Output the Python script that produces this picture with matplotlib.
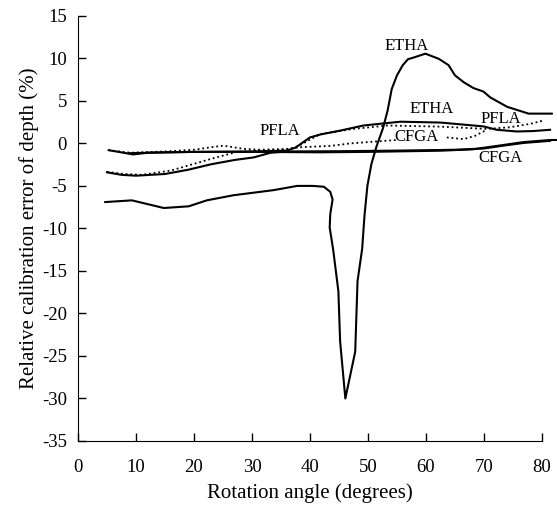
import matplotlib
matplotlib.use("Agg")
import matplotlib.pyplot as plt

plt.rcParams["font.family"] = ["Liberation Serif", "DejaVu Serif"]
plt.rcParams["axes.unicode_minus"] = False

# ETHA, first series (large swing near 45 degrees)
etha1_x = [4.7, 9.3, 14.8, 19.1, 22.2, 26.8, 33.7, 37.8, 40.5, 42.4, 43.5, 43.9, 43.5, 43.4,
           44.0, 44.9, 45.2, 46.1, 47.8, 48.2, 49.0, 49.4, 49.9, 50.6, 51.5, 52.6, 53.4,
           54.1, 55.0, 56.0, 56.9, 57.9, 59.9, 62.2, 63.9, 65.0, 66.5, 68.2, 69.9, 71.1,
           74.0, 77.7, 81.7]
etha1_y = [-6.9, -6.7, -7.6, -7.4, -6.7, -6.1, -5.5, -5.0, -5.0, -5.1, -5.7, -6.6, -8.3,
           -9.9, -12.5, -17.4, -23.3, -30.0, -24.5, -16.2, -12.4, -8.5, -5.0, -2.4, -0.3,
           1.8, 3.9, 6.4, 8.0, 9.2, 9.9, 10.1, 10.55, 9.95, 9.2, 8.0, 7.2, 6.5, 6.1, 5.4,
           4.3, 3.5, 3.5]

# ETHA, second series
etha2_x = [5.3, 7.0, 9.5, 12.0, 20.0, 30.0, 36.0, 37.5, 40.0, 41.8, 45.2, 49.2, 52.7,
           55.6, 62.5, 69.9, 72.2, 75.7, 78.5, 81.4]
etha2_y = [-0.8, -1.0, -1.3, -1.1, -1.0, -0.95, -0.85, -0.5, 0.7, 1.05, 1.5, 2.1, 2.35,
           2.55, 2.45, 2.0, 1.6, 1.4, 1.45, 1.6]

# PFLA, solid
pfla1_x = [5.0, 7.5, 10.0, 15.0, 19.0, 23.0, 27.0, 30.3, 33.2, 36.0, 45.0, 55.0, 65.0,
           70.0, 73.0, 76.8, 81.4]
pfla1_y = [-3.4, -3.7, -3.8, -3.6, -3.1, -2.45, -1.95, -1.65, -1.1, -0.95, -0.92, -0.85,
           -0.75, -0.6, -0.3, 0.05, 0.3]

# PFLA, dotted
pfla2_x = [5.0, 8.0, 11.0, 16.0, 22.8, 27.4, 32.0, 36.0, 38.0, 41.8, 47.5, 53.3, 62.5,
           70.5, 74.5, 78.0, 80.3]
pfla2_y = [-3.35, -3.6, -3.7, -3.2, -1.85, -1.0, -0.85, -0.8, -0.3, 1.1, 1.7, 2.1, 1.97,
           1.7, 1.9, 2.3, 2.7]

# CFGA, dotted
cfga1_x = [5.3, 9.0, 15.0, 20.0, 23.0, 25.1, 28.6, 31.4, 36.0, 38.3, 43.5, 47.0, 51.0,
           53.3, 55.0]
cfga1_y = [-0.8, -1.1, -0.95, -0.75, -0.45, -0.27, -0.65, -0.75, -0.65, -0.45, -0.3, 0.0,
           0.2, 0.32, 0.4]
cfga1b_x = [63.6, 66.5, 68.5, 70.5]
cfga1b_y = [0.7, 0.5, 0.9, 1.6]

# CFGA, solid
cfga2_x = [9.0, 15.0, 20.0, 30.0, 41.8, 50.0, 62.5, 68.0, 72.2, 76.8, 81.4, 82.5]
cfga2_y = [-1.15, -1.05, -1.0, -1.0, -1.05, -1.0, -0.86, -0.7, -0.3, 0.15, 0.4, 0.4]

labels = ["ETHA", "ETHA", "PFLA", "PFLA", "CFGA", "CFGA"]
label_x = [56.7, 61.0, 34.8, 72.9, 58.3, 72.8]
label_y = [11.45, 4.06, 1.42, 2.88, 0.79, -1.72]

fig = plt.figure(figsize=(5.57, 5.11), dpi=100)
ax = fig.add_axes([0.14, 0.137, 0.833, 0.832])

kw = dict(color="black", clip_on=False)
ax.plot(etha1_x, etha1_y, lw=1.5, **kw)
ax.plot(etha2_x, etha2_y, lw=1.5, **kw)
ax.plot(pfla1_x, pfla1_y, lw=1.5, **kw)
ax.plot(pfla2_x, pfla2_y, lw=1.3, ls=(0, (1, 1.6)), **kw)
ax.plot(cfga1_x, cfga1_y, lw=1.3, ls=(0, (1, 1.6)), **kw)
ax.plot(cfga1b_x, cfga1b_y, lw=1.3, ls=(0, (1, 1.6)), **kw)
ax.plot(cfga2_x, cfga2_y, lw=1.5, **kw)

for t, x, y in zip(labels, label_x, label_y):
    ax.text(x, y, t, ha="center", va="center", fontsize=12)

ax.set_xlim(0, 80)
ax.set_ylim(-35, 15)
ax.set_xticks(range(0, 81, 10))
ax.set_yticks(range(-35, 16, 5))
ax.spines["top"].set_visible(False)
ax.spines["right"].set_visible(False)
ax.tick_params(direction="in", length=6, width=1, labelsize=13.5)
ax.tick_params(axis="x", pad=13)
ax.tick_params(axis="y", pad=8)
ax.set_xlabel("Rotation angle (degrees)", fontsize=15, labelpad=5)
ax.set_ylabel("Relative calibration error of depth (%)", fontsize=15, labelpad=2)

fig.savefig("out.png", dpi=100)
